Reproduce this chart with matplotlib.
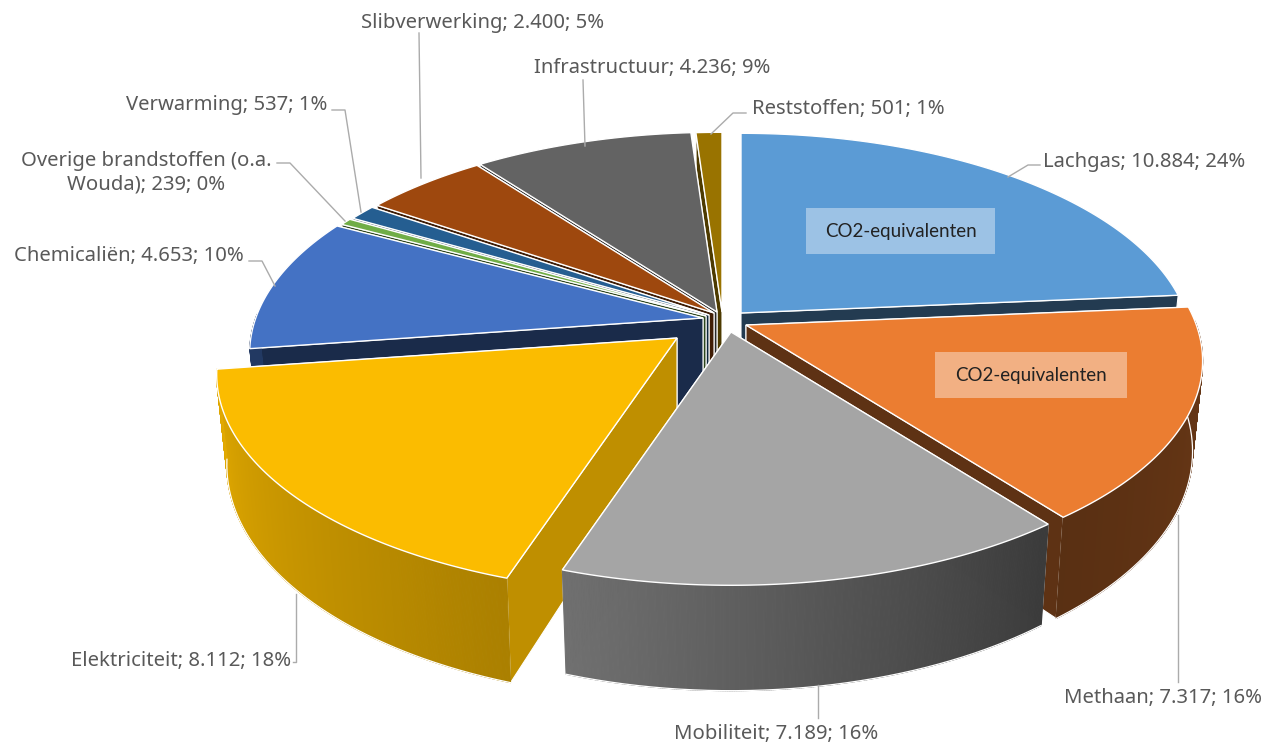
import numpy as np
import matplotlib
matplotlib.use("Agg")
import matplotlib.pyplot as plt
from matplotlib.collections import PolyCollection
from matplotlib.colors import to_rgb

# ---- data
names = ["Lachgas", "Methaan", "Mobiliteit", "Elektriciteit", "Chemicaliën",
         "Overige brandstoffen (o.a.\nWouda)", "Verwarming", "Slibverwerking",
         "Infrastructuur", "Reststoffen"]
values = [10884, 7317, 7189, 8112, 4653, 239, 537, 2400, 4236, 501]
percents = [24, 16, 16, 18, 10, 0, 1, 5, 9, 1]
box_text = "CO2-equivalenten"

# ---- styles
colors = ["#5B9BD5", "#EB7D31", "#A5A5A5", "#FBBC00", "#4472C4",
          "#70AD47", "#255E91", "#9E480E", "#636363", "#997300"]
cut_shade = [0.38, 0.40, 0.30, 0.76, 0.38, 0.4, 0.4, 0.4, 0.40, 0.5]
wall_shade = [(0.4, 0.4), (0.46, 0.38), (0.36, 0.68), (0.68, 0.90), (0.5, 0.5),
              (0.5, 0.5), (0.5, 0.5), (0.5, 0.5), (0.5, 0.5), (0.5, 0.5)]
apex_x = [741, 746, 731, 677, 703, 706, 709, 714, 717, 722]
apex_y = [313, 325, 332, 338, 318, 316, 315, 313, 312, 312]
radius = [1.0, 1.012, 1.012, 1.02, 1.005, 1.0, 1.0, 1.0, 1.0, 1.0]
draw_order = [9, 8, 7, 6, 5, 4, 0, 3, 1, 2]
RX, RY, K, DEPTH, SHRINK = 445.0, 209.0, 0.163, 88.0, 0.978
TEXT = "#595959"
FONT = "Noto Sans"

fig = plt.figure(figsize=(12.69, 7.45), dpi=100)
ax = fig.add_axes([0, 0, 1, 1])
ax.set_xlim(0, 1269)
ax.set_ylim(745, 0)
ax.axis("off")


def project(ax0, ay0, theta, r=1.0, bottom=False):
    u, v = r * np.sin(theta), -r * np.cos(theta)
    f = 1.0 / (1.0 - K * v)
    dx, dy = RX * u * f, RY * v * f
    if bottom:
        return ax0 + dx * SHRINK, ay0 + dy + DEPTH * f
    return ax0 + dx, ay0 + dy


def scaled(c, s):
    return tuple(min(1.0, x * s) for x in to_rgb(c))


edges = np.cumsum([0] + values) / sum(values) * 2 * np.pi
for i in draw_order:
    a0, a1 = edges[i], edges[i + 1]
    ax0, ay0 = apex_x[i], apex_y[i]
    r = radius[i]
    th = np.linspace(a0, a1, max(6, int((a1 - a0) * 300)))
    top = np.array([project(ax0, ay0, t, r) for t in th])
    bot = np.array([project(ax0, ay0, t, r, bottom=True) for t in th])
    apex_top = (ax0, ay0)
    apex_bot = (ax0, ay0 + DEPTH)
    z = 3 + 3 * draw_order.index(i)
    dark = scaled(colors[i], cut_shade[i])
    # the cut face nearer the back is painted first, so the nearer one covers it
    faces = sorted([(top[0], bot[0]), (top[-1], bot[-1])], key=lambda f: f[0][1])
    for p, q in faces:
        ax.fill([apex_top[0], p[0], q[0], apex_bot[0]],
                [apex_top[1], p[1], q[1], apex_bot[1]],
                color=dark, ec="white", lw=0.8, zorder=z)
    # only the part of the outer wall that faces the viewer
    front = -np.cos(th) > -0.02
    if front.sum() > 1:
        idx = np.where(front)[0]
        s0, s1 = wall_shade[i]
        shade = np.linspace(s0, s1, len(th) - 1)
        quads = [[top[j], top[j + 1], bot[j + 1], bot[j]] for j in idx[:-1]]
        cols = [scaled(colors[i], shade[j]) for j in idx[:-1]]
        ax.add_collection(PolyCollection(quads, facecolors=cols, edgecolors=cols,
                                         linewidths=0.8, zorder=z + 1))
        ax.plot(*bot[idx].T, color="white", lw=0.9, zorder=z + 1.2)
    ax.fill(np.r_[ax0, top[:, 0]], np.r_[ay0, top[:, 1]],
            color=colors[i], ec="white", lw=1.0, zorder=z + 2, joinstyle="miter")


def fmt(v):
    return f"{v:,}".replace(",", ".")


label_xy = [(1144, 162), (1163, 698), (776, 734), (181, 661), (129, 256),
            (146, 173), (227, 105), (483, 23), (652, 68), (848, 109)]
leaders = [[(1040, 165), (1028, 165), (1008, 177)],
           [(1178, 515), (1178, 682)],
           [(818, 685), (818, 718)],
           [(296, 594), (296, 662), (293, 662)],
           [(249, 261), (262, 261), (275, 286)],
           [(277, 163), (290, 163), (345, 221)],
           [(332, 110), (345, 110), (361, 212)],
           [(419, 33), (421, 178)],
           [(583, 80), (585, 146)],
           [(746, 113), (733, 113), (711, 134)]]
for i, name in enumerate(names):
    ax.text(*label_xy[i], f"{name}; {fmt(values[i])}; {percents[i]}%", ha="center",
            va="center", fontsize=14.6, color=TEXT, family=FONT, zorder=60,
            linespacing=1.25)
    xs, ys = zip(*leaders[i])
    ax.plot(xs, ys, color="#ABABAB", lw=1.0, zorder=59)

for (x0, y0, x1, y1) in [(806, 208, 995, 254), (935, 352, 1127, 398)]:
    ax.fill([x0, x1, x1, x0], [y0, y0, y1, y1], color="white", alpha=0.4, lw=0, zorder=61)
    ax.text((x0 + x1) / 2, (y0 + y1) / 2, box_text, ha="center", va="center",
            fontsize=13.5, color="#222222", family="Lato", zorder=62)

fig.savefig("out.png", dpi=100, facecolor="white")
